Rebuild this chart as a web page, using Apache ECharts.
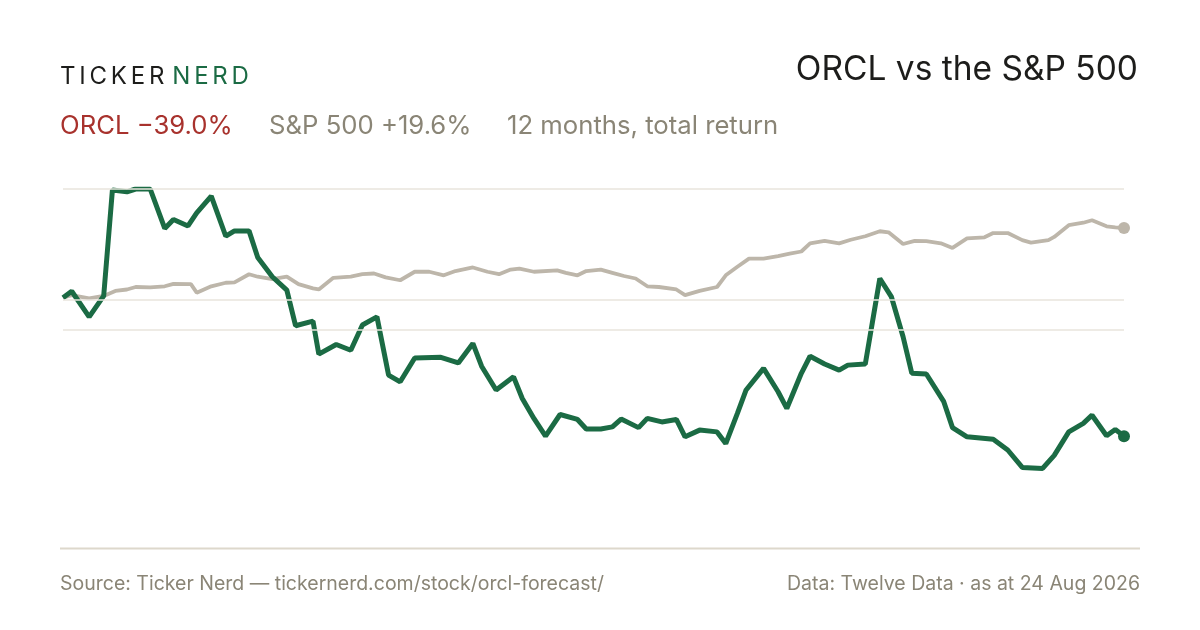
<!DOCTYPE html>
<html>
 <head>
  <title>ORCL vs the S&P 500</title>
  <script src="https://cdn.jsdelivr.net/npm/echarts@6/dist/echarts.min.js"></script>
  <style>
    html, body, #container {
    width: 100%;
    height: 100%;
    margin: 0;
    padding: 0;
    background: #ffffff;
    }
  </style>
 </head>
  <body>
    <div id="container"></div>
    <script>
// days since 24 Aug 2025 and total return in %
var orclDays = [0, 3, 9, 14, 17, 22, 25, 30, 35, 38, 43, 46, 51, 56, 59, 64, 67, 72, 77, 80,
  86, 88, 94, 99, 103, 108, 112, 116, 121, 130, 136, 141, 144, 149, 155, 158, 162, 166, 171, 177,
  180, 185, 189, 192, 198, 201, 206, 211, 214, 219, 225, 228, 232, 235, 241, 246, 249, 254, 257, 262,
  267, 270, 276, 281, 285, 289, 292, 297, 303, 306, 311, 320, 325, 330, 337, 341, 346, 351, 354, 359,
  362, 365];
var orclReturn = [0, 1.8, -5.4, 0.5, 30.3, 29.8, 30.6, 30.6, 19.5, 22.0, 20.2, 23.9, 28.6, 17.3, 18.8, 18.8, 11.3, 5.9, 2.1, -7.9,
  -6.6, -15.9, -13.2, -14.8, -7.7, -5.4, -21.8, -23.7, -17.0, -16.8, -18.4, -12.9, -19.3, -26.0, -22.3, -28.4, -34.0, -39.0, -32.9, -34.3,
  -37.0, -37.0, -36.4, -34.2, -36.6, -34.0, -35.0, -34.3, -39.2, -37.3, -37.8, -41.1, -32.6, -26.0, -19.9, -26.5, -31.2, -21.3, -16.5, -18.7,
  -20.4, -19.0, -18.7, 5.4, 0.2, -11.0, -21.3, -21.5, -29.3, -36.6, -39.2, -39.9, -42.9, -47.8, -48.1, -44.4, -37.8, -35.4, -33.1, -38.9,
  -37.1, -39.0];

var spxDays = [0, 3, 9, 14, 18, 22, 25, 30, 35, 38, 44, 46, 51, 56, 59, 64, 67, 72, 77, 81,
  86, 88, 93, 99, 103, 107, 111, 116, 121, 126, 131, 135, 141, 146, 150, 154, 157, 162, 170, 173,
  177, 180, 185, 189, 193, 197, 201, 205, 211, 214, 219, 225, 228, 232, 236, 241, 246, 250, 254, 257,
  262, 267, 271, 276, 281, 284, 289, 293, 297, 302, 306, 311, 317, 320, 325, 330, 333, 339, 341, 346,
  351, 354, 359, 362, 365];
var spxReturn = [0, 0.7, -0.2, 0.5, 1.9, 2.3, 3.0, 2.9, 3.2, 3.9, 3.8, 1.4, 3.2, 4.2, 4.3, 6.6, 5.9, 5.2, 5.9, 3.8,
  2.6, 2.3, 5.6, 5.9, 6.6, 6.8, 5.7, 4.9, 7.3, 7.3, 6.3, 7.5, 8.5, 7.3, 6.6, 7.9, 8.2, 7.3, 7.7, 7.0,
  6.3, 7.5, 7.9, 7.0, 6.1, 5.4, 3.2, 3.0, 2.3, 0.7, 1.9, 3.0, 6.3, 8.7, 11.0, 11.0, 11.7, 12.4, 13.0, 15.3,
  16.0, 15.3, 16.3, 17.3, 18.7, 18.4, 15.1, 16.0, 15.9, 15.3, 14.0, 16.7, 17.0, 18.2, 18.2, 16.2, 15.5, 16.2, 17.1, 20.4,
  21.1, 21.8, 20.1, 19.8, 19.6];

var gridValues = [30.6, -0.5, -9.0];

var green = '#1b6b44';
var sand = '#bdb6aa';
var muted = '#8a8576';
var font = 'Inter, "Liberation Sans", Arial, sans-serif';

function pairs(xs, ys) {
  return xs.map(function (d, i) { return [d, ys[i]]; });
}

// spaced-out wordmark, one letter per text element
function wordmark(x, y) {
  var ctx = document.createElement('canvas').getContext('2d');
  var size = 24;
  ctx.font = size + 'px ' + font;
  var parts = [['TICKER', '#1d1d1b'], ['NERD', green]];
  var out = [];
  var cx = x;
  parts.forEach(function (p, k) {
    if (k > 0) cx += 4;
    p[0].split('').forEach(function (ch) {
      out.push({ type: 'text', left: cx, top: y,
        style: { text: ch, fill: p[1], font: size + 'px ' + font } });
      cx += ctx.measureText(ch).width + 3.8;
    });
  });
  return out;
}

var chartDom = document.getElementById('container');
var myChart = echarts.init(chartDom);
var option;

option = {
  backgroundColor: '#ffffff',
  animation: false,
  grid: { left: 63, right: 76, top: 189, bottom: 82 },
  xAxis: { type: 'value', min: 0, max: 365, show: false },
  yAxis: { type: 'value', min: 30.6 - 101.1, max: 30.6, show: false, splitLine: { show: false } },
  graphic: wordmark(60, 55).concat([
    { type: 'text', right: 62, top: 40,
      style: { text: 'ORCL vs the S&P 500', fill: '#1d1d1b', font: '33.5px ' + font } },
    { type: 'text', left: 60, top: 103,
      style: { text: 'ORCL \u221239.0%', fill: '#a8322d', font: '25.7px ' + font } },
    { type: 'text', left: 269, top: 103,
      style: { text: 'S&P 500 +19.6%', fill: muted, font: '25.7px ' + font } },
    { type: 'text', left: 507, top: 103,
      style: { text: '12 months, total return', fill: muted, font: '25.7px ' + font } },
    { type: 'line', shape: { x1: 60, y1: 548.5, x2: 1140, y2: 548.5 },
      style: { stroke: '#ddd8cc', lineWidth: 2 } },
    { type: 'text', left: 60, top: 567,
      style: { text: 'Source: Ticker Nerd \u2014 tickernerd.com/stock/orcl-forecast/', fill: muted, font: '19.5px ' + font } },
    { type: 'text', right: 60, top: 567,
      style: { text: 'Data: Twelve Data \u00b7 as at 24 Aug 2026', fill: muted, font: '19.5px ' + font } }
  ]),
  series: [
    {
      type: 'line',
      data: pairs(spxDays, spxReturn),
      symbol: 'none',
      lineStyle: { color: sand, width: 3.8 },
      z: 2,
      markLine: {
        silent: true,
        symbol: 'none',
        label: { show: false },
        lineStyle: { color: '#e8e4dc', width: 1.5, type: 'solid' },
        data: gridValues.map(function (v) { return { yAxis: v }; })
      }
    },
    {
      type: 'line',
      data: pairs(orclDays, orclReturn),
      symbol: 'none',
      lineStyle: { color: green, width: 5 },
      z: 3
    },
    {
      type: 'scatter',
      data: [
        { value: [spxDays[spxDays.length - 1], spxReturn[spxReturn.length - 1]], itemStyle: { color: sand, opacity: 1 } },
        { value: [orclDays[orclDays.length - 1], orclReturn[orclReturn.length - 1]], itemStyle: { color: green, opacity: 1 } }
      ],
      symbolSize: 12,
      z: 4
    }
  ]
};

option && myChart.setOption(option);
    </script>
  </body>
</html>
